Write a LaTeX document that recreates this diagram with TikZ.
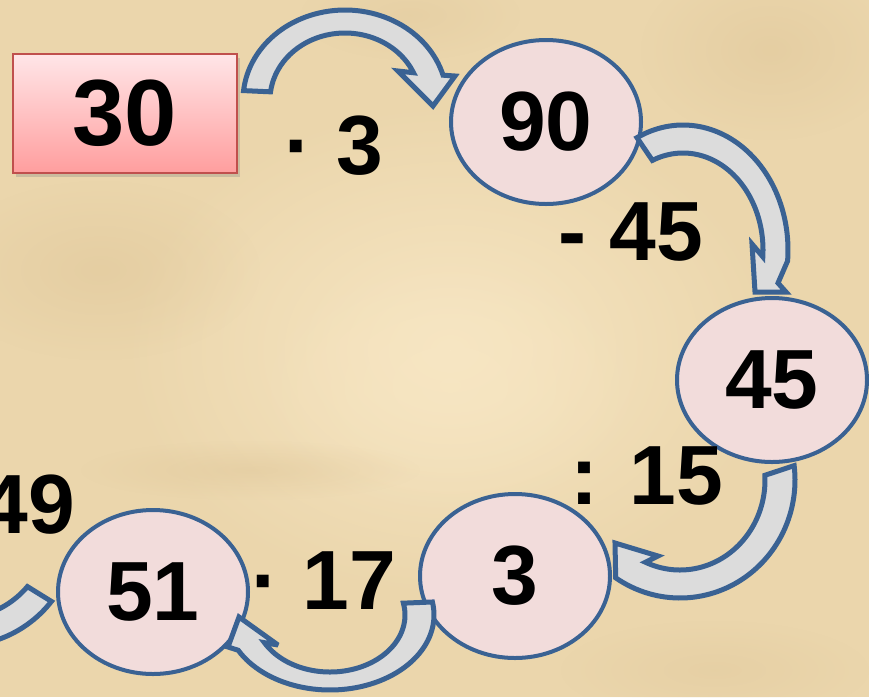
\documentclass[tikz,border=0pt]{standalone}
\usepackage{fontspec}
\setmainfont{Liberation Sans}
\usetikzlibrary{shapes.geometric,shadows,fadings}
\definecolor{bgbase}{HTML}{EBD6AC}
\definecolor{bglight}{HTML}{F7E6C3}
\definecolor{bgdark}{HTML}{DCC294}
\definecolor{arrfill}{HTML}{DCDCDC}
\definecolor{arrline}{HTML}{3A6293}
\definecolor{ellfill}{HTML}{F2DCDB}
\definecolor{rectline}{HTML}{C0504D}
\definecolor{recttop}{HTML}{FFE6E8}
\definecolor{rectbot}{HTML}{FF9E9E}
\newcommand\dgtfont{\fontsize{84pt}{84pt}\selectfont\bfseries}
\newcommand\dgtfontbig{\fontsize{94pt}{94pt}\selectfont\bfseries}
\tikzfading[name=softfade, inner color=transparent!0, outer color=transparent!100]
\tikzset{
  numell/.style={ellipse, draw=arrline, fill=ellfill, line width=4pt,
    minimum width=190pt, minimum height=164pt, inner sep=0pt, font=\dgtfont, text=black},
  rectbox/.style={rectangle, draw=rectline, line width=2pt, top color=recttop,
    bottom color=rectbot, minimum width=224pt, minimum height=119pt, inner sep=0pt,
    font=\dgtfontbig, text=black,
    drop shadow={opacity=0.3, shadow xshift=3pt, shadow yshift=-4pt}},
  numtext/.style={inner sep=0pt, font=\dgtfont, text=black},
  blockarrow/.style={fill=arrfill, draw=arrline, line width=5pt, line join=miter, miter limit=4},
  blot/.style={path fading=softfade}
}
\begin{document}
\begin{tikzpicture}[x=1pt,y=-1pt]
\useasboundingbox (0,0) rectangle (869,697);
% background parchment
\fill[bgbase] (0,0) rectangle (869,697);
\fill[bglight, blot] (120,100) rectangle (780,600);
\fill[bglight, blot, opacity=0.7] (250,250) rectangle (650,520);
\fill[bgdark, blot, opacity=0.4] (-60,180) rectangle (260,360);
\fill[bgdark, blot, opacity=0.4] (640,-40) rectangle (900,140);
\fill[bgdark, blot, opacity=0.4] (80,440) rectangle (420,500);
\fill[bgdark, blot, opacity=0.3] (300,-30) rectangle (520,60);
\fill[bgdark, blot, opacity=0.3] (560,620) rectangle (869,720);

% nodes
\node[rectbox] (n30) at (124.5,113) {30};
\node[numell] (n90) at (546,122) {90};
\node[numell] (n45) at (772,380) {45};
\node[numell] (n3) at (515,576) {3};
\node[numell] (n51) at (153,592) {51};

% labels
\node[numtext] (l1) at (334,146) {· 3};
\node[numtext] (l2) at (631,232) {- 45};
\node[numtext] (l3) at (647,476) {: 15};
\node[numtext] (l4) at (324,581) {· 17};
\node[numtext, anchor=east] (l5) at (75,505) {49};

% arrow 30 -> 90
\filldraw[blockarrow] plot[domain=186:344, samples=60] ({345+102*cos(\x)},{100+90*sin(\x)})
  -- (455,76) -- (433,106) -- (398,71)
  -- plot[domain=336:187, samples=60] ({345+75*cos(\x)},{100+67*sin(\x)}) -- cycle;
% arrow 90 -> 45
\filldraw[blockarrow] plot[domain=244:365, samples=60] ({683+105*cos(\x)},{250+125*sin(\x)})
  -- (778,283) -- (786,292) -- (755,292) -- (752,244)
  -- plot[domain=364:247.5, samples=60] ({683+80*cos(\x)},{250+97*sin(\x)}) -- cycle;
% arrow 45 -> 3
\filldraw[blockarrow] plot[domain=-7:124, samples=60] ({680+115*cos(\x)},{480+118*sin(\x)})
  -- (615,543) -- (658,556)
  -- plot[domain=114:-3, samples=60] ({680+85*cos(\x)},{480+90*sin(\x)}) -- cycle;
% arrow 3 -> 51
\filldraw[blockarrow] plot[domain=-10:152, samples=60] ({330+104*cos(\x)},{615+75*sin(\x)})
  -- (228,647) -- (239,617) -- (278,645)
  -- plot[domain=151:-12, samples=60] ({330+75*cos(\x)},{615+57*sin(\x)}) -- cycle;
% arrow 51 -> 49 (tail only visible)
\filldraw[blockarrow] plot[domain=100:38, samples=40] ({-40+116*cos(\x)},{530+116*sin(\x)})
  -- plot[domain=40:100, samples=40] ({-40+88*cos(\x)},{530+88*sin(\x)}) -- cycle;
\end{tikzpicture}
\end{document}
